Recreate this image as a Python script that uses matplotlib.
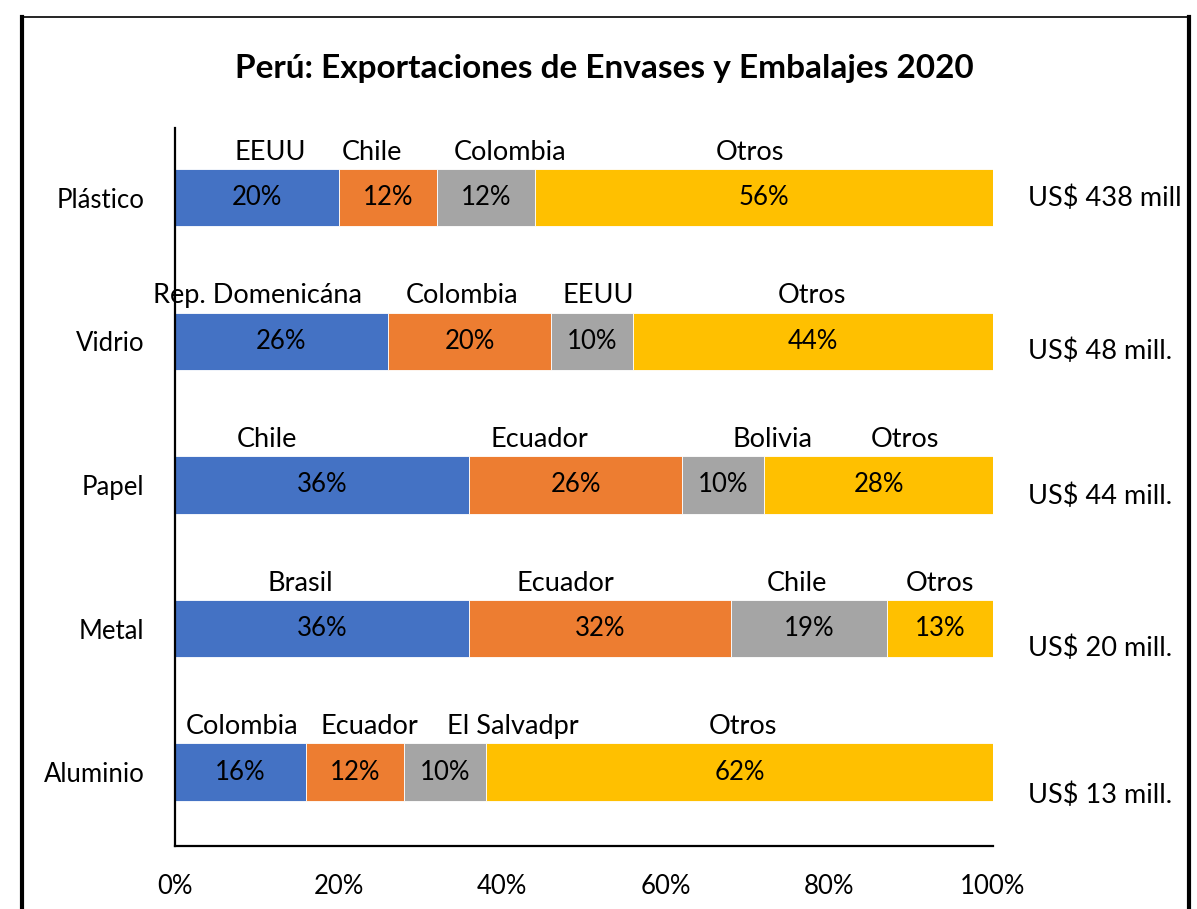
import numpy as np
import matplotlib
matplotlib.use("Agg")
import matplotlib.pyplot as plt
from matplotlib.lines import Line2D

plt.rcParams['font.family'] = ['Lato', 'DejaVu Sans']

# data
categories = ['Plástico', 'Vidrio', 'Papel', 'Metal', 'Aluminio']
share_1 = [20, 26, 36, 36, 16]
share_2 = [12, 20, 26, 32, 12]
share_3 = [12, 10, 10, 19, 10]
share_4 = [56, 44, 28, 13, 62]
countries = [
    ['EEUU', 'Chile', 'Colombia', 'Otros'],
    ['Rep. Domenicána', 'Colombia', 'EEUU', 'Otros'],
    ['Chile', 'Ecuador', 'Bolivia', 'Otros'],
    ['Brasil', 'Ecuador', 'Chile', 'Otros'],
    ['Colombia', 'Ecuador', 'El Salvadpr', 'Otros'],
]
totals = ['US$ 438 mill', 'US$ 48 mill.', 'US$ 44 mill.', 'US$ 20 mill.', 'US$ 13 mill.']

# layout: x position (in % units) of each country label above the bars
label_x = [
    [11.6, 24.1, 41.0, 70.3],
    [10.1, 35.1, 51.7, 77.9],
    [11.2, 44.6, 73.0, 89.2],
    [15.3, 47.7, 76.0, 93.5],
    [8.2, 23.8, 41.3, 69.4],
]
total_dy = [0.0, -0.07, -0.08, -0.14, -0.16]

colors = ['#4472C4', '#ED7D31', '#A5A5A5', '#FFC000']

fig = plt.figure(figsize=(11.97, 9.09), dpi=100)
ax = fig.add_axes([0.1462, 0.0693, 0.6834, 0.7899])

y = np.arange(len(categories))[::-1]
shares = np.array([share_1, share_2, share_3, share_4])
left = np.zeros(len(categories))
bar_h = 0.40
for k in range(4):
    bars = ax.barh(y, shares[k], left=left, height=bar_h, color=colors[k],
                   edgecolor='white', linewidth=0.6)
    for b, v in zip(bars, shares[k]):
        ax.text(b.get_x() + b.get_width() / 2, b.get_y() + b.get_height() / 2,
                f'{v}%', ha='center', va='center', fontsize=18.5, color='black')
    left += shares[k]

for i, yi in enumerate(y):
    for name, xl in zip(countries[i], label_x[i]):
        ax.text(xl, yi + bar_h / 2 + 0.03, name, ha='center', va='bottom',
                fontsize=19.5)
    ax.text(104.3, yi + total_dy[i], totals[i], ha='left', va='center',
            fontsize=19.5, clip_on=False)

ax.set_xlim(0, 100)
ax.set_ylim(-0.514, 4.486)
ax.set_xticks([0, 20, 40, 60, 80, 100])
ax.set_xticklabels(['0%', '20%', '40%', '60%', '80%', '100%'])
ax.set_yticks(y)
ax.set_yticklabels(categories)
ax.tick_params(axis='both', length=0, labelsize=18.5)
ax.tick_params(axis='x', pad=20)
ax.tick_params(axis='y', pad=22)
for s in ['top', 'right']:
    ax.spines[s].set_visible(False)
for s in ['left', 'bottom']:
    ax.spines[s].set_linewidth(1.6)

fig.text(0.505, 0.925, 'Perú: Exportaciones de Envases y Embalajes 2020',
         ha='center', va='center', fontsize=24, fontweight='bold')

# outer frame of the chart
fig.add_artist(Line2D([0.0175, 0.9945], [0.981, 0.981], color='black', lw=1.2))
fig.add_artist(Line2D([0.0180, 0.0180], [0.0, 0.981], color='black', lw=3))
fig.add_artist(Line2D([0.9930, 0.9930], [0.0, 0.981], color='black', lw=3))

fig.savefig('out.png', dpi=100)
